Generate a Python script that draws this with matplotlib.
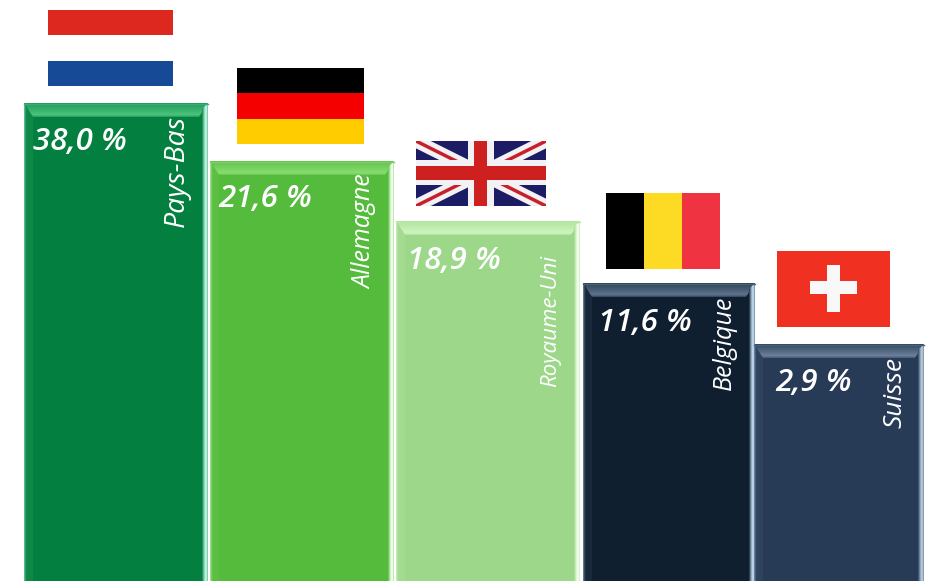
import matplotlib
matplotlib.use('Agg')
import matplotlib.pyplot as plt
from matplotlib.colors import to_rgb
from matplotlib.patches import Polygon, Rectangle

# drawn bar heights are stepped, they do not follow the percentages
pays = ['Pays-Bas', 'Allemagne', 'Royaume-Uni', 'Belgique', 'Suisse']
parts = ['38,0 %', '21,6 %', '18,9 %', '11,6 %', '2,9 %']
hauteurs = [478, 420, 360, 298, 237]
gauche = [24, 210, 396, 583, 754]
largeur = [184, 184, 184, 172, 170]
couleurs = ['#038040', '#55bb3c', '#9dd78a', '#0f1f30', '#273a56']
clairs = ['#4cc27c', '#86dc70', '#cdf5be', '#5d738c', '#6b7f9a']
bords = ['#1f9a5a', '#62c24a', '#b0e49c', '#2f4458', '#31475f']
reflets = ['#b4f0dc', '#ecfce6', '#eefbe8', '#b5d2e8', '#b0c4d6']

fig = plt.figure(figsize=(9.29, 5.81), dpi=100)
ax = fig.add_axes([0, 0, 1, 1])
ax.set_xlim(0, 929)
ax.set_ylim(0, 581)
ax.axis('off')


def melange(c1, c2, t):
    a, b = to_rgb(c1), to_rgb(c2)
    return tuple(a[i] + (b[i] - a[i]) * t for i in range(3))


def biseau(x, w, h, base, clair, bord, reflet):
    # left bevel, barely lighter than the face
    ax.add_patch(Polygon([(x, h), (x + 9, h - 14), (x + 9, 0), (x, 0)],
                         color=melange(base, clair, 0.12), lw=0, zorder=3))
    # top bevel, dark at the edge, lightest just above the face
    n = 14
    for i in range(n):
        t = i / n
        d0, d1 = 14 * t, 14 * (i + 1) / n
        if t < 0.8:
            c = melange(bord, clair, t / 0.8)
        else:
            c = melange(clair, base, (t - 0.8) / 0.2 * 0.7)
        ax.add_patch(Polygon([(x + d0 * 0.65, h - d0), (x + w - d0 * 0.65, h - d0),
                              (x + w - d1 * 0.65, h - d1), (x + d1 * 0.65, h - d1)], color=c, lw=0, zorder=3))
    # right strip, outer pixels first
    for i, t in enumerate([0.7, 1, 1, 0.8, 0.5, 0.2]):
        ax.add_patch(Polygon([(x + w - i, h - i), (x + w - i - 1, h - i - 1),
                              (x + w - i - 1, 0), (x + w - i, 0)], color=melange(base, reflet, t), lw=0, zorder=4))
    # left edge
    for i, t in enumerate([0.5, 0.25, 0.1]):
        ax.add_patch(Polygon([(x + i, h - i), (x + i + 1, h - i - 1),
                              (x + i + 1, 0), (x + i, 0)], color=melange(base, reflet, t), lw=0, zorder=4))
    ax.plot([x, x + w], [h - 0.5, h - 0.5], color=melange(bord, reflet, 0.2), lw=1, zorder=4)


ax.bar(gauche, hauteurs, width=largeur, align='edge', color=couleurs, zorder=2)
for i in range(5):
    biseau(gauche[i], largeur[i], hauteurs[i], couleurs[i], clairs[i], bords[i], reflets[i])

# percentages
px = [33, 218, 407, 598, 775]
py = [439, 382, 320, 258, 198]
for x, y, s in zip(px, py, parts):
    ax.text(x, y, s, color='white', fontsize=22.5, family='Open Sans', style='italic',
            weight='semibold', ha='left', va='center', zorder=5)

# country names, rotated
nx = [177, 365, 551, 724, 895]
ntop = [466, 407, 326, 285, 224]
tailles = [20.5, 18, 16, 18, 19]
for x, y, s, t in zip(nx, ntop, pays, tailles):
    ax.text(x, y, s, color='white', fontsize=t, family='Open Sans', style='italic',
            rotation=90, ha='center', va='top', zorder=5)


def bandes(x0, x1, y_haut, y_bas, cols, horizontal=True):
    n = len(cols)
    for i, c in enumerate(cols):
        if horizontal:
            h = (y_bas - y_haut) / n
            ax.add_patch(Rectangle((x0, 581 - y_haut - (i + 1) * h), x1 - x0, h, color=c, lw=0, zorder=2))
        else:
            w = (x1 - x0) / n
            ax.add_patch(Rectangle((x0 + i * w, 581 - y_bas), w, y_bas - y_haut, color=c, lw=0, zorder=2))


# flags
bandes(48, 173, 10, 86, ['#dc281e', '#ffffff', '#174a96'])
bandes(237, 364, 68, 144, ['#000000', '#f50000', '#ffcc00'])
bandes(606, 720, 193, 269, ['#000000', '#fdda24', '#ef3340'], horizontal=False)

# UK
ux0, ux1, uy0, uy1 = 416, 546, 375, 440
ax.add_patch(Rectangle((ux0, uy0), ux1 - ux0, uy1 - uy0, color='#1c1c64', lw=0, zorder=2))
clip = Rectangle((ux0, uy0), ux1 - ux0, uy1 - uy0, transform=ax.transData)
for (xa, ya, xb, yb) in [(ux0, uy0, ux1, uy1), (ux0, uy1, ux1, uy0)]:
    for c, lw in [('#f2f2f5', 9.5), ('#c8202a', 2.5)]:
        l, = ax.plot([xa, xb], [ya, yb], color=c, lw=lw, solid_capstyle='butt', zorder=3)
        l.set_clip_path(clip)
ax.add_patch(Rectangle((ux0, 396), ux1 - ux0, 25, color='#f2f2f5', lw=0, zorder=3))
ax.add_patch(Rectangle((468, uy0), 26, uy1 - uy0, color='#f2f2f5', lw=0, zorder=3))
ax.add_patch(Rectangle((ux0, 401), ux1 - ux0, 14, color='#cf2020', lw=0, zorder=3))
ax.add_patch(Rectangle((474, uy0), 13.5, uy1 - uy0, color='#cf2020', lw=0, zorder=3))

# Switzerland
ax.add_patch(Rectangle((777, 254), 113, 76, color='#f03020', lw=0, zorder=2))
ax.add_patch(Rectangle((810, 287), 47, 13, color='#f8f8f8', lw=0, zorder=3))
ax.add_patch(Rectangle((827, 269), 13, 47, color='#f8f8f8', lw=0, zorder=3))

fig.savefig('out.png', dpi=100)
